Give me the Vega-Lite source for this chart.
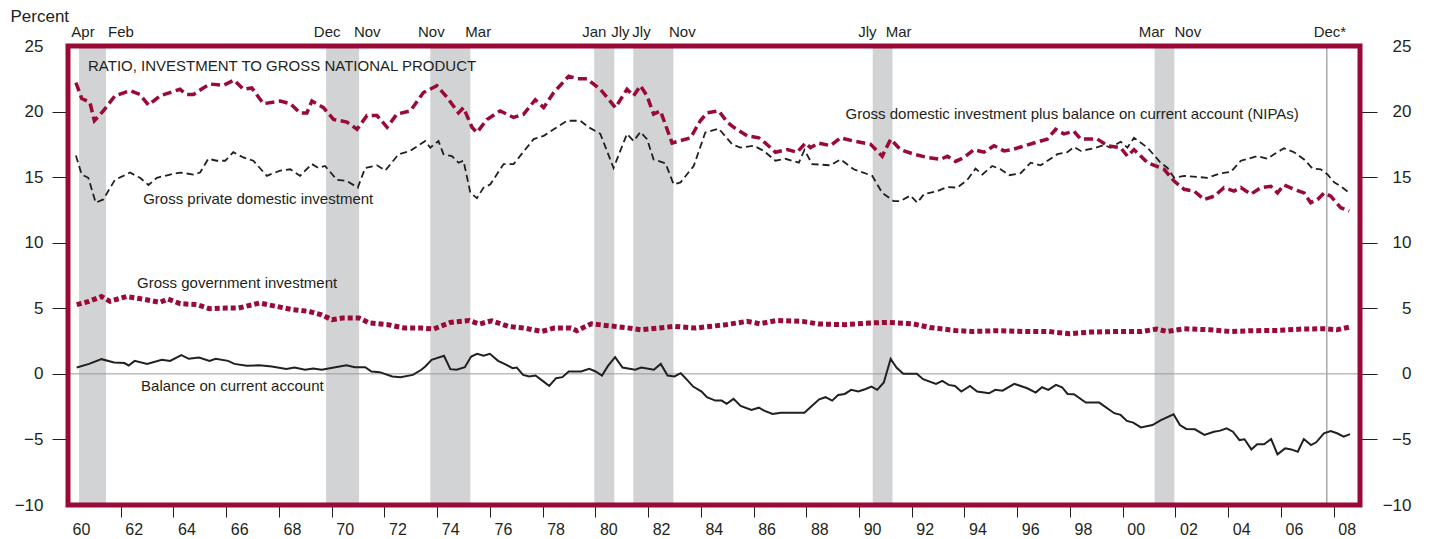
{
"$schema": "https://vega.github.io/schema/vega-lite/v6.json",
"width": 1292, "height": 459,
"autosize": {"type": "none"},
"padding": {"left": 68, "top": 46, "right": 71, "bottom": 34},
"background": "white",
"config": {"view": {"stroke": null}, "font": "Liberation Sans"},
"datasets": {
"bands": [{"s":1960.42,"e":1961.44},{"s":1969.79,"e":1971.04},{"s":1973.74,"e":1975.26},{"s":1979.96,"e":1980.72},{"s":1981.44,"e":1982.96},{"s":1990.52,"e":1991.27},{"s":2001.21,"e":2001.96}],
"a": [{"t":1960.30,"v":22.2},{"t":1960.52,"v":21.0},{"t":1960.83,"v":20.7},{"t":1961.00,"v":19.3},{"t":1961.34,"v":20.05},{"t":1961.78,"v":21.2},{"t":1962.35,"v":21.6},{"t":1962.73,"v":21.3},{"t":1963.05,"v":20.5},{"t":1963.49,"v":21.2},{"t":1964.25,"v":21.7},{"t":1964.50,"v":21.3},{"t":1964.76,"v":21.3},{"t":1965.13,"v":21.8},{"t":1965.39,"v":22.1},{"t":1965.89,"v":22.0},{"t":1966.30,"v":22.4},{"t":1966.65,"v":21.7},{"t":1966.97,"v":21.8},{"t":1967.41,"v":20.6},{"t":1968.05,"v":20.8},{"t":1968.43,"v":20.6},{"t":1968.80,"v":19.9},{"t":1969.06,"v":19.9},{"t":1969.25,"v":20.8},{"t":1969.69,"v":20.3},{"t":1970.07,"v":19.4},{"t":1970.58,"v":19.2},{"t":1970.96,"v":18.65},{"t":1971.34,"v":19.7},{"t":1971.72,"v":19.7},{"t":1972.10,"v":18.8},{"t":1972.47,"v":19.8},{"t":1972.98,"v":20.05},{"t":1973.48,"v":21.45},{"t":1973.99,"v":21.97},{"t":1974.37,"v":21.1},{"t":1974.81,"v":19.9},{"t":1975.00,"v":20.3},{"t":1975.32,"v":18.8},{"t":1975.51,"v":18.4},{"t":1975.89,"v":19.4},{"t":1976.39,"v":20.05},{"t":1976.90,"v":19.55},{"t":1977.28,"v":19.8},{"t":1977.72,"v":20.9},{"t":1978.04,"v":20.3},{"t":1978.42,"v":21.45},{"t":1978.99,"v":22.7},{"t":1979.31,"v":22.5},{"t":1979.68,"v":22.5},{"t":1980.19,"v":21.7},{"t":1980.76,"v":20.3},{"t":1981.20,"v":21.7},{"t":1981.45,"v":21.2},{"t":1981.71,"v":21.97},{"t":1981.96,"v":21.2},{"t":1982.21,"v":19.8},{"t":1982.47,"v":20.05},{"t":1982.91,"v":17.6},{"t":1983.61,"v":18.0},{"t":1983.98,"v":19.3},{"t":1984.24,"v":19.9},{"t":1984.68,"v":20.05},{"t":1985.00,"v":19.2},{"t":1985.25,"v":18.8},{"t":1985.76,"v":18.15},{"t":1986.20,"v":18.0},{"t":1986.45,"v":17.6},{"t":1986.83,"v":16.9},{"t":1987.28,"v":17.1},{"t":1987.65,"v":16.9},{"t":1987.97,"v":17.6},{"t":1988.16,"v":17.25},{"t":1988.47,"v":17.6},{"t":1988.92,"v":17.4},{"t":1989.30,"v":18.0},{"t":1989.80,"v":17.75},{"t":1990.44,"v":17.5},{"t":1990.88,"v":16.6},{"t":1991.20,"v":17.9},{"t":1991.57,"v":17.1},{"t":1992.08,"v":16.75},{"t":1992.59,"v":16.5},{"t":1993.09,"v":16.35},{"t":1993.35,"v":16.6},{"t":1993.66,"v":16.2},{"t":1993.98,"v":16.5},{"t":1994.36,"v":17.1},{"t":1994.74,"v":16.9},{"t":1995.12,"v":17.4},{"t":1995.50,"v":17.0},{"t":1995.81,"v":17.1},{"t":1996.13,"v":17.3},{"t":1996.63,"v":17.6},{"t":1997.14,"v":17.9},{"t":1997.46,"v":18.65},{"t":1997.77,"v":18.3},{"t":1998.15,"v":18.5},{"t":1998.41,"v":17.9},{"t":1999.04,"v":17.9},{"t":1999.42,"v":17.4},{"t":1999.92,"v":17.25},{"t":2000.18,"v":16.6},{"t":2000.43,"v":17.1},{"t":2000.94,"v":16.1},{"t":2001.57,"v":15.6},{"t":2001.95,"v":14.7},{"t":2002.33,"v":14.07},{"t":2002.71,"v":13.94},{"t":2003.09,"v":13.3},{"t":2003.47,"v":13.55},{"t":2003.84,"v":14.2},{"t":2004.22,"v":13.94},{"t":2004.48,"v":14.2},{"t":2004.86,"v":13.7},{"t":2005.24,"v":14.2},{"t":2005.62,"v":14.3},{"t":2005.87,"v":13.8},{"t":2006.12,"v":14.4},{"t":2006.50,"v":14.07},{"t":2006.88,"v":13.8},{"t":2007.13,"v":13.05},{"t":2007.39,"v":13.3},{"t":2007.64,"v":13.8},{"t":2007.89,"v":13.55},{"t":2008.27,"v":12.67},{"t":2008.59,"v":12.4}],
"b": [{"t":1960.30,"v":16.65},{"t":1960.52,"v":15.2},{"t":1960.77,"v":14.95},{"t":1961.05,"v":13.05},{"t":1961.34,"v":13.3},{"t":1961.78,"v":14.8},{"t":1962.10,"v":15.1},{"t":1962.35,"v":15.35},{"t":1962.73,"v":14.95},{"t":1963.05,"v":14.4},{"t":1963.37,"v":14.95},{"t":1963.87,"v":15.2},{"t":1964.25,"v":15.35},{"t":1964.76,"v":15.2},{"t":1965.01,"v":15.35},{"t":1965.32,"v":16.4},{"t":1965.64,"v":16.25},{"t":1965.96,"v":16.25},{"t":1966.27,"v":16.9},{"t":1966.65,"v":16.5},{"t":1967.03,"v":16.25},{"t":1967.54,"v":15.1},{"t":1968.05,"v":15.5},{"t":1968.43,"v":15.6},{"t":1968.80,"v":15.1},{"t":1969.25,"v":16.0},{"t":1969.50,"v":15.7},{"t":1969.75,"v":15.85},{"t":1970.20,"v":14.8},{"t":1970.58,"v":14.7},{"t":1970.99,"v":14.2},{"t":1971.27,"v":15.7},{"t":1971.72,"v":15.9},{"t":1972.03,"v":15.5},{"t":1972.54,"v":16.75},{"t":1972.98,"v":17.0},{"t":1973.55,"v":17.75},{"t":1973.74,"v":17.25},{"t":1974.05,"v":17.75},{"t":1974.24,"v":16.75},{"t":1974.56,"v":16.6},{"t":1974.81,"v":16.1},{"t":1975.00,"v":16.25},{"t":1975.26,"v":13.8},{"t":1975.51,"v":13.4},{"t":1975.76,"v":14.2},{"t":1976.02,"v":14.45},{"t":1976.52,"v":16.0},{"t":1976.90,"v":16.0},{"t":1977.66,"v":17.9},{"t":1978.04,"v":18.15},{"t":1978.42,"v":18.65},{"t":1978.93,"v":19.3},{"t":1979.43,"v":19.3},{"t":1979.75,"v":18.8},{"t":1980.19,"v":18.3},{"t":1980.69,"v":15.7},{"t":1981.20,"v":18.3},{"t":1981.45,"v":17.75},{"t":1981.71,"v":18.45},{"t":1981.96,"v":17.9},{"t":1982.21,"v":16.35},{"t":1982.66,"v":16.05},{"t":1982.97,"v":14.45},{"t":1983.23,"v":14.6},{"t":1983.73,"v":15.85},{"t":1984.17,"v":18.4},{"t":1984.68,"v":18.7},{"t":1985.19,"v":17.5},{"t":1985.50,"v":17.25},{"t":1986.01,"v":17.4},{"t":1986.39,"v":17.0},{"t":1986.83,"v":16.25},{"t":1987.21,"v":16.4},{"t":1987.72,"v":16.1},{"t":1987.93,"v":17.07},{"t":1988.22,"v":16.0},{"t":1988.92,"v":15.9},{"t":1989.30,"v":16.35},{"t":1989.80,"v":15.6},{"t":1990.50,"v":15.1},{"t":1990.88,"v":13.8},{"t":1991.32,"v":13.17},{"t":1991.57,"v":13.17},{"t":1991.95,"v":13.6},{"t":1992.21,"v":13.05},{"t":1992.46,"v":13.7},{"t":1992.97,"v":13.94},{"t":1993.35,"v":14.25},{"t":1993.73,"v":14.2},{"t":1994.11,"v":14.8},{"t":1994.42,"v":15.65},{"t":1994.68,"v":15.2},{"t":1995.05,"v":15.85},{"t":1995.37,"v":15.6},{"t":1995.69,"v":15.15},{"t":1996.13,"v":15.3},{"t":1996.51,"v":16.1},{"t":1996.89,"v":15.9},{"t":1997.52,"v":16.75},{"t":1997.90,"v":16.9},{"t":1998.15,"v":17.3},{"t":1998.41,"v":17.0},{"t":1998.91,"v":17.2},{"t":1999.29,"v":17.45},{"t":1999.54,"v":17.25},{"t":1999.92,"v":17.7},{"t":2000.18,"v":17.25},{"t":2000.43,"v":18.0},{"t":2000.94,"v":17.25},{"t":2001.44,"v":16.1},{"t":2001.70,"v":15.7},{"t":2001.95,"v":14.95},{"t":2002.33,"v":15.1},{"t":2003.21,"v":14.95},{"t":2003.72,"v":15.3},{"t":2004.10,"v":15.4},{"t":2004.48,"v":16.25},{"t":2005.11,"v":16.6},{"t":2005.49,"v":16.4},{"t":2005.74,"v":16.75},{"t":2006.12,"v":17.2},{"t":2006.50,"v":16.9},{"t":2006.88,"v":16.35},{"t":2007.20,"v":15.65},{"t":2007.51,"v":15.6},{"t":2007.77,"v":15.2},{"t":2008.02,"v":14.6},{"t":2008.27,"v":14.3},{"t":2008.59,"v":13.8}],
"c": [{"t":1960.33,"v":5.28},{"t":1960.80,"v":5.53},{"t":1961.27,"v":5.9},{"t":1961.59,"v":5.53},{"t":1962.22,"v":5.9},{"t":1962.85,"v":5.7},{"t":1963.48,"v":5.45},{"t":1963.79,"v":5.7},{"t":1964.26,"v":5.35},{"t":1964.89,"v":5.28},{"t":1965.37,"v":4.97},{"t":1966.00,"v":5.02},{"t":1966.47,"v":5.02},{"t":1967.26,"v":5.4},{"t":1967.89,"v":5.15},{"t":1968.52,"v":4.9},{"t":1969.15,"v":4.76},{"t":1969.62,"v":4.5},{"t":1970.01,"v":4.13},{"t":1970.41,"v":4.26},{"t":1971.04,"v":4.26},{"t":1971.43,"v":3.88},{"t":1972.14,"v":3.75},{"t":1972.77,"v":3.49},{"t":1973.40,"v":3.49},{"t":1973.87,"v":3.42},{"t":1974.50,"v":3.92},{"t":1975.21,"v":4.07},{"t":1975.60,"v":3.8},{"t":1976.07,"v":4.05},{"t":1976.70,"v":3.62},{"t":1977.33,"v":3.49},{"t":1977.96,"v":3.23},{"t":1978.44,"v":3.49},{"t":1979.07,"v":3.49},{"t":1979.30,"v":3.29},{"t":1979.85,"v":3.82},{"t":1980.48,"v":3.67},{"t":1981.11,"v":3.54},{"t":1981.74,"v":3.36},{"t":1982.37,"v":3.49},{"t":1983.00,"v":3.62},{"t":1983.79,"v":3.49},{"t":1984.14,"v":3.57},{"t":1984.95,"v":3.75},{"t":1985.75,"v":4.0},{"t":1986.24,"v":3.82},{"t":1986.88,"v":4.07},{"t":1987.85,"v":4.0},{"t":1988.49,"v":3.8},{"t":1989.46,"v":3.75},{"t":1990.42,"v":3.88},{"t":1991.07,"v":3.92},{"t":1992.03,"v":3.82},{"t":1992.68,"v":3.54},{"t":1993.64,"v":3.31},{"t":1994.28,"v":3.23},{"t":1995.25,"v":3.29},{"t":1996.22,"v":3.23},{"t":1997.18,"v":3.23},{"t":1997.99,"v":3.06},{"t":1998.79,"v":3.19},{"t":1999.76,"v":3.23},{"t":2000.72,"v":3.23},{"t":2001.29,"v":3.42},{"t":2001.69,"v":3.23},{"t":2002.33,"v":3.44},{"t":2003.30,"v":3.36},{"t":2004.10,"v":3.23},{"t":2004.91,"v":3.29},{"t":2005.87,"v":3.31},{"t":2006.84,"v":3.42},{"t":2007.64,"v":3.44},{"t":2008.12,"v":3.36},{"t":2008.61,"v":3.57}],
"d": [{"t":1960.33,"v":0.48},{"t":1960.80,"v":0.76},{"t":1961.27,"v":1.12},{"t":1961.75,"v":0.87},{"t":1962.14,"v":0.82},{"t":1962.30,"v":0.64},{"t":1962.53,"v":0.99},{"t":1963.00,"v":0.76},{"t":1963.56,"v":1.07},{"t":1963.87,"v":0.99},{"t":1964.30,"v":1.43},{"t":1964.58,"v":1.15},{"t":1964.97,"v":1.25},{"t":1965.37,"v":0.99},{"t":1965.60,"v":1.15},{"t":1966.07,"v":0.99},{"t":1966.31,"v":0.76},{"t":1966.78,"v":0.61},{"t":1967.26,"v":0.66},{"t":1967.73,"v":0.56},{"t":1968.28,"v":0.38},{"t":1968.59,"v":0.48},{"t":1968.99,"v":0.31},{"t":1969.30,"v":0.41},{"t":1969.62,"v":0.31},{"t":1970.09,"v":0.48},{"t":1970.56,"v":0.66},{"t":1970.88,"v":0.51},{"t":1971.27,"v":0.51},{"t":1971.51,"v":0.18},{"t":1971.82,"v":0.13},{"t":1972.30,"v":-0.2},{"t":1972.61,"v":-0.25},{"t":1973.08,"v":-0.08},{"t":1973.40,"v":0.31},{"t":1973.55,"v":0.56},{"t":1973.79,"v":1.07},{"t":1974.26,"v":1.38},{"t":1974.50,"v":0.36},{"t":1974.74,"v":0.31},{"t":1975.05,"v":0.51},{"t":1975.29,"v":1.32},{"t":1975.52,"v":1.53},{"t":1975.76,"v":1.38},{"t":1976.00,"v":1.53},{"t":1976.31,"v":0.99},{"t":1976.63,"v":0.69},{"t":1976.86,"v":0.43},{"t":1977.02,"v":0.48},{"t":1977.26,"v":-0.08},{"t":1977.49,"v":-0.2},{"t":1977.73,"v":-0.13},{"t":1978.04,"v":-0.59},{"t":1978.25,"v":-0.92},{"t":1978.51,"v":-0.33},{"t":1978.75,"v":-0.25},{"t":1978.99,"v":0.18},{"t":1979.46,"v":0.18},{"t":1979.77,"v":0.38},{"t":1980.01,"v":0.18},{"t":1980.25,"v":-0.13},{"t":1980.48,"v":0.61},{"t":1980.75,"v":1.27},{"t":1981.03,"v":0.48},{"t":1981.51,"v":0.31},{"t":1981.74,"v":0.48},{"t":1982.22,"v":0.31},{"t":1982.48,"v":0.76},{"t":1982.74,"v":-0.13},{"t":1983.00,"v":-0.2},{"t":1983.24,"v":0.05},{"t":1983.48,"v":-0.46},{"t":1983.71,"v":-0.97},{"t":1984.03,"v":-1.35},{"t":1984.23,"v":-1.78},{"t":1984.55,"v":-2.04},{"t":1984.79,"v":-2.04},{"t":1984.98,"v":-2.29},{"t":1985.24,"v":-1.91},{"t":1985.51,"v":-2.45},{"t":1985.92,"v":-2.75},{"t":1986.20,"v":-2.58},{"t":1986.40,"v":-2.8},{"t":1986.72,"v":-3.06},{"t":1987.04,"v":-2.96},{"t":1987.93,"v":-2.96},{"t":1988.25,"v":-2.37},{"t":1988.49,"v":-1.94},{"t":1988.73,"v":-1.78},{"t":1988.98,"v":-2.04},{"t":1989.21,"v":-1.61},{"t":1989.46,"v":-1.53},{"t":1989.70,"v":-1.22},{"t":1989.97,"v":-1.35},{"t":1990.23,"v":-1.17},{"t":1990.47,"v":-0.97},{"t":1990.69,"v":-1.22},{"t":1990.94,"v":-0.66},{"t":1991.20,"v":1.15},{"t":1991.42,"v":0.48},{"t":1991.68,"v":0.0},{"t":1992.19,"v":0.0},{"t":1992.43,"v":-0.41},{"t":1992.92,"v":-0.76},{"t":1993.16,"v":-0.54},{"t":1993.40,"v":-0.84},{"t":1993.64,"v":-0.92},{"t":1993.88,"v":-1.35},{"t":1994.21,"v":-0.92},{"t":1994.48,"v":-1.35},{"t":1994.93,"v":-1.48},{"t":1995.17,"v":-1.22},{"t":1995.44,"v":-1.28},{"t":1995.89,"v":-0.76},{"t":1996.38,"v":-1.1},{"t":1996.70,"v":-1.43},{"t":1996.94,"v":-1.02},{"t":1997.18,"v":-1.22},{"t":1997.47,"v":-0.84},{"t":1997.70,"v":-1.02},{"t":1997.91,"v":-1.53},{"t":1998.15,"v":-1.55},{"t":1998.60,"v":-2.19},{"t":1999.11,"v":-2.19},{"t":1999.68,"v":-3.0},{"t":1999.92,"v":-3.13},{"t":2000.16,"v":-3.59},{"t":2000.40,"v":-3.72},{"t":2000.69,"v":-4.08},{"t":2001.13,"v":-3.9},{"t":2001.45,"v":-3.52},{"t":2001.93,"v":-3.08},{"t":2002.17,"v":-3.9},{"t":2002.41,"v":-4.2},{"t":2002.74,"v":-4.23},{"t":2003.10,"v":-4.66},{"t":2003.46,"v":-4.41},{"t":2003.70,"v":-4.33},{"t":2003.94,"v":-4.15},{"t":2004.18,"v":-4.41},{"t":2004.43,"v":-5.05},{"t":2004.62,"v":-4.99},{"t":2004.88,"v":-5.76},{"t":2005.10,"v":-5.37},{"t":2005.36,"v":-5.37},{"t":2005.63,"v":-4.97},{"t":2005.87,"v":-6.14},{"t":2006.16,"v":-5.68},{"t":2006.39,"v":-5.76},{"t":2006.64,"v":-5.94},{"t":2006.87,"v":-4.97},{"t":2007.14,"v":-5.43},{"t":2007.34,"v":-5.22},{"t":2007.63,"v":-4.53},{"t":2007.89,"v":-4.36},{"t":2008.13,"v":-4.53},{"t":2008.38,"v":-4.79},{"t":2008.62,"v":-4.59}],
"notes": [{"label":"RATIO, INVESTMENT TO GROSS NATIONAL PRODUCT","t":1960.76,"v":23.5},{"label":"Gross private domestic investment","t":1962.85,"v":13.36},{"label":"Gross domestic investment plus balance on current account (NIPAs)","t":1989.49,"v":19.85},{"label":"Gross government investment","t":1962.62,"v":6.95},{"label":"Balance on current account","t":1962.77,"v":-0.92}],
"months": [{"m":"Apr","t":1960.57},{"m":"Feb","t":1962.01},{"m":"Dec","t":1969.83},{"m":"Nov","t":1971.35},{"m":"Nov","t":1973.78},{"m":"Mar","t":1975.56},{"m":"Jan","t":1979.96},{"m":"Jly","t":1980.95},{"m":"Jly","t":1981.75},{"m":"Nov","t":1983.30},{"m":"Jly","t":1990.32},{"m":"Mar","t":1991.50},{"m":"Mar","t":2001.10},{"m":"Nov","t":2002.47},{"m":"Dec*","t":2007.86}],
"marker": [{"t":2007.74}]
},
"resolve": {"axis": {"y": "independent"}},
"layer": [
{"data": {"name": "bands"}, "mark": {"type": "rect", "color": "#d1d3d4"},
 "encoding": {"x": {"field": "s", "type": "quantitative", "title": null, "scale": {"domain": [1960, 2009], "nice": false, "zero": false},
   "axis": {"values": [1960,1961,1962,1963,1964,1965,1966,1967,1968,1969,1970,1971,1972,1973,1974,1975,1976,1977,1978,1979,1980,1981,1982,1983,1984,1985,1986,1987,1988,1989,1990,1991,1992,1993,1994,1995,1996,1997,1998,1999,2000,2001,2002,2003,2004,2005,2006,2007,2008], "domain": false, "grid": false, "tickSize": 12, "tickColor": "#231f20", "tickWidth": 1, "tickOpacity": {"condition": {"test": "datum.value == 1960", "value": 0}, "value": 1}, "labelExpr": "datum.value % 2 == 0 ? slice(toString(datum.value), 2) : ''", "labelOffset": 13, "labelPadding": 4, "labelFontSize": 16, "labelColor": "#231f20", "labelFont": "Liberation Sans", "labelBound": false, "labelFlush": false, "labelOverlap": false}},
  "x2": {"field": "e"},
  "y": {"datum": -10, "type": "quantitative", "axis": null, "scale": {"domain": [-10, 25], "nice": false, "zero": false}}, "y2": {"datum": 25}}},
{"data": {"values": [{"z": 0}]}, "mark": {"type": "rule", "color": "#9a9a9a", "strokeWidth": 1},
 "encoding": {"y": {"field": "z", "type": "quantitative", "axis": null}}},
{"data": {"name": "marker"}, "mark": {"type": "rule", "color": "#a7a9ac", "strokeWidth": 1.5},
 "encoding": {"x": {"field": "t", "type": "quantitative", "title": null}}},
{"data": {"name": "b"}, "mark": {"type": "line", "color": "#231f20", "strokeWidth": 1.8, "strokeDash": [7, 4]},
 "encoding": {"x": {"field": "t", "type": "quantitative", "title": null}, "y": {"field": "v", "type": "quantitative", "axis": null}}},
{"data": {"name": "a"}, "mark": {"type": "line", "color": "#9a0a36", "strokeWidth": 3.5, "strokeDash": [9, 4.5]},
 "encoding": {"x": {"field": "t", "type": "quantitative", "title": null}, "y": {"field": "v", "type": "quantitative", "axis": null}}},
{"data": {"name": "c"}, "mark": {"type": "line", "color": "#9a0a36", "strokeWidth": 5, "strokeDash": [5, 3]},
 "encoding": {"x": {"field": "t", "type": "quantitative", "title": null},
  "y": {"field": "v", "type": "quantitative", "title": null, "axis": {"orient": "right", "values": [-10, -5, 0, 5, 10, 15, 20, 25], "domain": false, "grid": false, "tickSize": 17, "tickColor": "#231f20", "tickOpacity": {"condition": {"test": "datum.value == 25 || datum.value == -10", "value": 0}, "value": 1}, "labelAlign": "right", "labelPadding": 34, "labelFontSize": 17, "labelColor": "#231f20", "labelFont": "Liberation Sans", "labelBound": false, "labelFlush": false, "labelOverlap": false}}}},
{"data": {"name": "d"}, "mark": {"type": "line", "color": "#231f20", "strokeWidth": 2},
 "encoding": {"x": {"field": "t", "type": "quantitative", "title": null},
  "y": {"field": "v", "type": "quantitative", "title": "Percent", "axis": {"orient": "left", "values": [-10, -5, 0, 5, 10, 15, 20, 25], "domain": false, "grid": false, "tickSize": 16, "tickColor": "#231f20", "tickOpacity": {"condition": {"test": "datum.value == 25 || datum.value == -10", "value": 0}, "value": 1}, "labelPadding": 9, "labelFontSize": 17, "labelColor": "#231f20", "labelFont": "Liberation Sans", "labelBound": false, "labelFlush": false, "labelOverlap": false, "titleAngle": 0, "titleAlign": "left", "titleBaseline": "middle", "titleX": -58, "titleY": -30, "titleFontSize": 17, "titleFontWeight": "normal", "titleColor": "#231f20", "titleFont": "Liberation Sans"}}}},
{"data": {"name": "notes"}, "mark": {"type": "text", "align": "left", "baseline": "middle", "fontSize": 15, "color": "#231f20", "font": "Liberation Sans"},
 "encoding": {"x": {"field": "t", "type": "quantitative", "title": null}, "y": {"field": "v", "type": "quantitative", "axis": null}, "text": {"field": "label"}}},
{"data": {"name": "months"}, "mark": {"type": "text", "align": "center", "baseline": "middle", "fontSize": 15, "color": "#231f20", "font": "Liberation Sans"},
 "encoding": {"x": {"field": "t", "type": "quantitative", "title": null}, "y": {"datum": 26.1, "type": "quantitative", "axis": null}, "text": {"field": "m"}}},
{"data": {"values": [{"k": 1}]}, "mark": {"type": "rect", "fillOpacity": 0, "stroke": "#9a0a36", "strokeWidth": 5},
 "encoding": {"x": {"datum": 1960, "type": "quantitative"}, "x2": {"datum": 2009}, "y": {"datum": -10, "type": "quantitative", "axis": null}, "y2": {"datum": 25}}}
]
}
